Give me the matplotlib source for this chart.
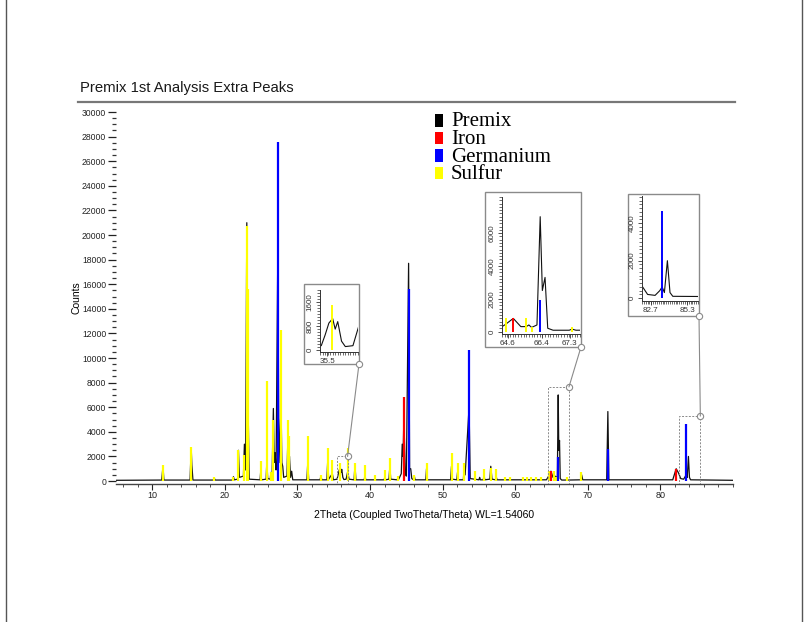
import matplotlib
matplotlib.use("Agg")
import matplotlib.pyplot as plt
from matplotlib.patches import Rectangle, ConnectionPatch
from matplotlib.lines import Line2D
from matplotlib.ticker import MultipleLocator, FixedLocator

# ---------------- data ----------------
title = "Premix 1st Analysis Extra Peaks"
series_names = ["Premix", "Iron", "Germanium", "Sulfur"]
series_colors = ["#000000", "#ff0000", "#0000ff", "#ffff00"]

# Premix measured pattern: read vertices (2theta, counts)
premix_x = [5.0, 11.3, 11.47, 11.6, 15.2, 15.36, 15.45, 15.6, 18.4, 18.53, 18.65,
            21.05, 21.18, 21.3, 21.75, 21.87, 22.0, 22.55, 22.69, 22.85, 23.02, 23.1, 23.2, 23.35,
            24.85, 24.95, 25.05, 25.68, 25.78, 25.9, 26.25, 26.33, 26.5, 26.68, 26.8, 26.92, 27.05,
            27.29, 27.45, 27.74, 27.85, 27.97, 28.1, 28.55, 28.7, 28.8, 28.9, 29.05, 29.2, 29.35,
            31.3, 31.42, 31.55, 33.1, 33.24, 33.35, 34.05, 34.17, 34.3, 34.8, 34.95,
            35.45, 35.6, 35.75, 35.9, 36.0, 36.1, 36.25, 36.4, 36.7, 36.93, 37.1,
            37.8, 37.92, 38.05, 39.2, 39.3, 39.4, 40.6, 40.67, 40.75,
            41.95, 42.05, 42.15, 42.6, 42.73, 42.85, 43.75, 43.84, 43.95, 44.3, 44.43, 44.55, 44.66,
            44.85, 45.0, 45.31, 45.45, 45.6, 45.75, 46.0, 46.1, 46.2, 47.68, 47.78, 47.9,
            51.1, 51.22, 51.35, 51.95, 52.05, 52.15, 52.85, 52.95, 53.1, 53.64, 53.8,
            55.0, 55.1, 55.2, 55.6, 55.7, 55.8, 56.5, 56.63, 56.8, 57.3, 57.4, 57.5,
            64.3, 64.6, 64.92, 65.2, 65.4, 65.5, 65.6, 65.8, 65.92, 66.0, 66.1, 66.2, 66.4,
            67.0, 67.1, 67.25, 69.0, 69.15, 69.3, 72.6, 72.76, 72.9,
            81.7, 82.17, 82.5, 82.8, 83.2, 83.45, 83.58, 83.7, 83.86, 84.0, 84.15, 90.0]
premix_y = [60, 80, 1200, 80, 80, 2700, 1300, 80, 80, 250, 80,
            80, 350, 100, 150, 2500, 300, 400, 3000, 900, 21000, 3000, 6000, 150,
            100, 900, 100, 150, 1600, 200, 150, 700, 400, 5900, 1500, 2300, 900,
            18600, 1500, 6100, 1500, 1200, 300, 400, 4100, 1200, 2000, 300, 800, 100,
            100, 1500, 100, 100, 400, 100, 100, 1700, 150, 600, 100,
            150, 500, 900, 1050, 700, 950, 300, 120, 150, 800, 150,
            100, 1300, 100, 100, 500, 100, 100, 300, 100,
            100, 400, 100, 150, 1200, 150, 100, 300, 150, 600, 3000, 2000, 5200,
            600, 400, 17700, 1000, 1000, 200, 100, 400, 100, 100, 1000, 100,
            100, 1200, 150, 100, 700, 100, 100, 1000, 500, 6000, 200,
            100, 300, 100, 100, 500, 100, 150, 1200, 150, 100, 300, 100,
            100, 400, 800, 300, 300, 400, 250, 400, 7000, 2500, 3300, 200, 80,
            80, 150, 80, 100, 500, 100, 100, 5650, 100,
            100, 1000, 650, 200, 150, 400, 600, 300, 2000, 300, 100, 60]

iron_pos = [44.66, 64.92, 82.17]
iron_int = [6800, 800, 1000]

germanium_pos = [27.29, 45.31, 53.64, 65.92, 72.76, 83.58]
germanium_int = [27600, 15600, 10650, 1950, 2600, 4650]

sulfur_pos = [11.47, 15.36, 18.53, 21.18, 21.87, 22.69, 23.02, 23.2, 24.95, 25.78, 26.33,
              26.68, 27.74, 28.66, 28.84, 31.42, 33.24, 34.17, 34.8, 35.86, 36.93, 37.92,
              39.3, 40.67, 42.05, 42.73, 43.84, 46.1, 47.78, 51.22, 52.05, 52.95, 54.5,
              55.7, 56.63, 57.4, 58.6, 59.3, 61.07, 61.62, 62.22, 62.81, 63.6, 64.65,
              65.39, 65.62, 67.11, 69.1]
sulfur_int = [1300, 2800, 300, 300, 2500, 2100, 20700, 15600, 1600, 8100, 700,
              5000, 12300, 5000, 3700, 3700, 500, 2700, 1700, 1500, 2700, 1500,
              1300, 500, 900, 1900, 400, 500, 1500, 2300, 1500, 1500, 800,
              1000, 1100, 1000, 300, 300, 300, 300, 300, 300, 300, 800,
              800, 300, 300, 700]

y_ticks = list(range(0, 30001, 2000))
x_ticks = [10, 20, 30, 40, 50, 60, 70, 80]
x_label = "2Theta (Coupled TwoTheta/Theta) WL=1.54060"
y_label = "Counts"

# zoom windows: (x range, count top) and inset tick labels
zoom_xlim = [(35.4, 36.9), (64.5, 67.4), (82.5, 85.5)]
zoom_top = [2000, 7650, 5280]
inset_ylim = [(-60, 2000), (-150, 8200), (-150, 5450)]
inset_yticks = [[0, 800, 1600], [0, 2000, 4000, 6000], [0, 2000, 4000]]
inset_xtick_pos = [[35.68], [64.72, 65.97, 67.02], [82.97, 84.92]]
inset_xtick_lab = [["35.5"], ["64.6", "66.4", "67.3"], ["82.7", "85.3"]]

# ---------------- layout ----------------
W, H = 807, 622
fig = plt.figure(figsize=(W / 100, H / 100), dpi=100)
fig.patch.set_facecolor("white")
plt.rcParams["font.family"] = ["Liberation Sans", "DejaVu Sans"]

def fx(px):
    return px / W

def fy(py):
    return 1 - py / H

def box(l, t, r, b):
    return [fx(l), fy(b), fx(r) - fx(l), fy(t) - fy(b)]

# page border
fig.add_artist(Line2D([fx(5.5), fx(5.5)], [0, 1], color="#555555", lw=1.0))
fig.add_artist(Line2D([fx(801.5), fx(801.5)], [0, 1], color="#555555", lw=1.0))

ax = fig.add_axes(box(116, 112, 733, 483.5))
ax.set_zorder(0)
ax.set_xlim(5, 90)
ax.set_ylim(-200, 30000)

def draw_data(a, lw_trace=0.9, lw_stick=1.6):
    a.plot(premix_x, premix_y, color="#111111", lw=lw_trace, zorder=2)
    a.vlines(sulfur_pos, 0, sulfur_int, color=series_colors[3], lw=lw_stick, zorder=3)
    a.vlines(iron_pos, 0, iron_int, color=series_colors[1], lw=lw_stick, zorder=4)
    a.vlines(germanium_pos, 0, germanium_int, color=series_colors[2], lw=lw_stick, zorder=4)

draw_data(ax)

for s in ["top", "right", "left"]:
    ax.spines[s].set_visible(False)
ax.spines["bottom"].set_color("#444444")
ax.spines["bottom"].set_linewidth(1.0)
ax.set_yticks(y_ticks)
ax.set_yticklabels([str(v) for v in y_ticks])
ax.yaxis.set_minor_locator(MultipleLocator(500))
ax.set_xticks(x_ticks)
ax.xaxis.set_minor_locator(MultipleLocator(2))
ax.tick_params(axis="y", which="major", direction="out", length=6, width=0.9,
               labelsize=6.2, pad=1, colors="#222222")
ax.tick_params(axis="y", which="minor", direction="out", length=3, width=0.9, colors="#333333")
ax.tick_params(axis="x", which="major", direction="out", length=4, width=0.8,
               labelsize=6.5, pad=1.5, colors="#222222")
ax.tick_params(axis="x", which="minor", direction="out", length=2.5, width=0.6, colors="#333333")
ax.set_xlabel(x_label, fontsize=7.5)
ax.xaxis.set_label_coords(0.5, (483.5 - 515) / 371.5)
ax.xaxis.label.set_va("center")
ax.set_ylabel(y_label, fontsize=7.5)
ax.yaxis.set_label_coords((76 - 116) / 617, 0.5)
ax.yaxis.label.set_va("center")

# title and rule
fig.text(fx(80), fy(88), title, fontsize=10.7, va="center", ha="left", color="#1a1a1a")
fig.add_artist(Line2D([fx(78), fx(735)], [fy(102), fy(102)], color="#777777", lw=1.6))

# legend (manual, serif)
leg_base = [126.5, 144, 161.5, 179]
for name, col, yb in zip(series_names, series_colors, leg_base):
    fig.add_artist(Rectangle((fx(434.5), fy(yb)), fx(8.5), 12.5 / H, facecolor=col,
                             edgecolor="none", transform=fig.transFigure))
    fig.text(fx(451), fy(yb), name, family=["Liberation Serif", "DejaVu Serif"],
             fontsize=15, va="baseline", ha="left", color="black")

# insets
inset_boxes = [(304, 284, 359, 364), (485, 192, 581, 347), (628, 194, 699, 316)]
inset_axes_px = [(320, 290, 358, 352), (502, 197, 580, 334), (642, 196, 698, 301)]
y_minor = [100, 200, 200]
gray = "#8a8a8a"
for i in range(3):
    l, t, r, b = inset_boxes[i]
    fig.add_artist(Rectangle((fx(l), fy(b)), fx(r) - fx(l), fy(t) - fy(b),
                             transform=fig.transFigure, facecolor="white",
                             edgecolor=gray, lw=1.0, zorder=1))
    ia = fig.add_axes(box(*inset_axes_px[i]))
    ia.set_zorder(2)
    ia.patch.set_alpha(0)
    draw_data(ia, lw_trace=0.8, lw_stick=1.4)
    ia.set_xlim(*zoom_xlim[i])
    ia.set_ylim(*inset_ylim[i])
    for s in ["top", "right"]:
        ia.spines[s].set_visible(False)
    for s in ["left", "bottom"]:
        ia.spines[s].set_color("#333333")
        ia.spines[s].set_linewidth(0.7)
    ia.set_yticks(inset_yticks[i])
    ia.set_yticklabels([str(v) for v in inset_yticks[i]], rotation=90, va="center")
    ia.yaxis.set_minor_locator(MultipleLocator(y_minor[i]))
    ia.xaxis.set_major_locator(FixedLocator(inset_xtick_pos[i]))
    ia.set_xticklabels(inset_xtick_lab[i])
    ia.xaxis.set_minor_locator(MultipleLocator(0.1))
    ia.tick_params(axis="both", which="major", length=3, width=0.6, labelsize=5.8,
                   pad=1.5, colors="#333333")
    ia.tick_params(axis="both", which="minor", length=2, width=0.5, colors="#333333")

    # zoom rectangle in main plot
    x0, x1 = zoom_xlim[i]
    ax.add_patch(Rectangle((x0, -200), x1 - x0, zoom_top[i] + 200, fill=False,
                           ls=(0, (2, 1.5)), lw=0.7, edgecolor=gray, zorder=5))
    cp = ConnectionPatch(xyA=(x1, zoom_top[i]), coordsA=ax.transData,
                         xyB=(fx(r), fy(b)), coordsB=fig.transFigure,
                         color=gray, lw=0.8, zorder=1)
    fig.add_artist(cp)
    ax.plot([x1], [zoom_top[i]], marker="o", ms=4.5, mfc="white", mec=gray, mew=0.8,
            clip_on=False, zorder=6)
    fig.add_artist(Line2D([fx(r)], [fy(b)], marker="o", ms=4.5, mfc="white", mec=gray,
                          mew=0.8, transform=fig.transFigure, zorder=3))

fig.savefig("out.png", dpi=100, facecolor="white")
